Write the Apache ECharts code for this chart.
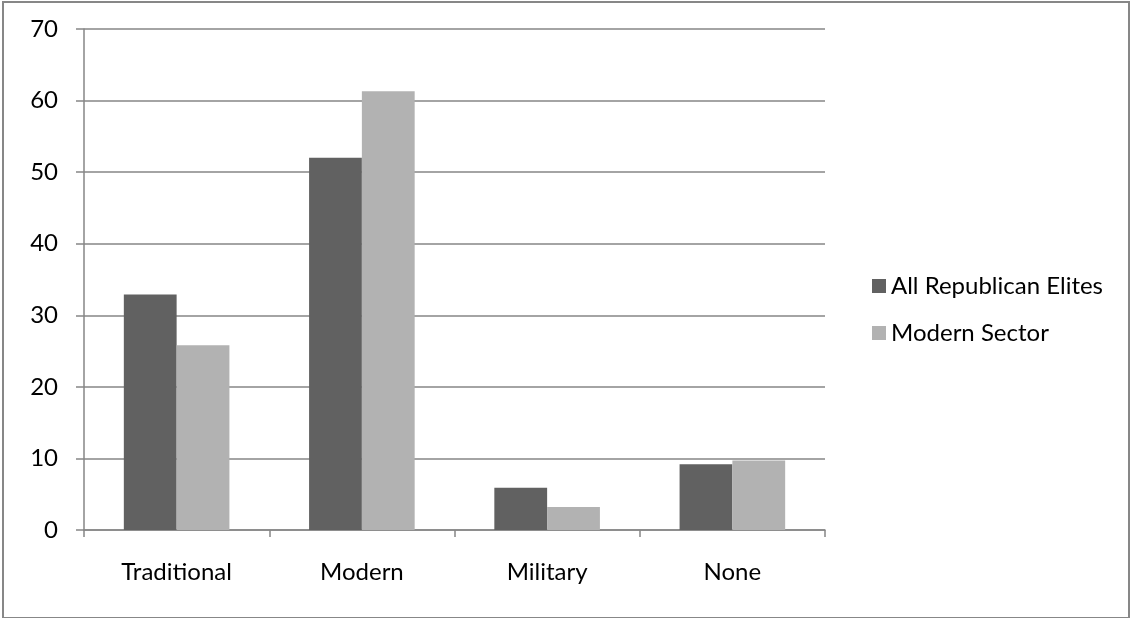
<!DOCTYPE html>
<html><head><meta charset="utf-8">
<script src="https://cdn.jsdelivr.net/npm/echarts@6/dist/echarts.min.js"></script>
<style>html,body{margin:0;padding:0;background:#fff}#c{width:1134px;height:618px}
#frame{position:absolute;left:2px;top:1px;width:1124px;height:614px;border:2px solid #878787;box-sizing:content-box;pointer-events:none}</style>
</head><body><div id="c"></div><div id="frame"></div>
<script>
const categories = ['Traditional', 'Modern', 'Military', 'None'];
const allRepublicanElites = [32.9, 52.0, 5.9, 9.2];
const modernSector = [25.8, 61.3, 3.2, 9.7];
const seriesNames = ['All Republican Elites', 'Modern Sector'];
const yTicks = { min: 0, max: 70, interval: 10 };

const chart = echarts.init(document.getElementById('c'));
const font = 'Lato, "Open Sans", sans-serif';
chart.setOption({
  animation: false,
  textStyle: { fontFamily: font },
  grid: { left: 84, right: 309, top: 29, bottom: 88, containLabel: false },
  legend: {
    orient: 'vertical', left: 867, top: 269,
    itemWidth: 14, itemHeight: 14, itemGap: 23,
    icon: 'rect',
    textStyle: { fontSize: 24, lineHeight: 24, color: '#000', fontFamily: font },
    data: seriesNames
  },
  xAxis: {
    type: 'category', data: categories,
    axisLine: { lineStyle: { color: '#868686', width: 1.5 } },
    axisTick: { show: true, length: 7, lineStyle: { color: '#868686', width: 1.5 } },
    axisLabel: { fontSize: 24, color: '#000', margin: 30, fontFamily: font }
  },
  yAxis: {
    type: 'value', min: yTicks.min, max: yTicks.max, interval: yTicks.interval,
    axisLine: { show: true, lineStyle: { color: '#868686', width: 1.5 } },
    axisTick: { show: true, length: 8, lineStyle: { color: '#868686', width: 1.5 } },
    splitLine: { lineStyle: { color: '#868686', width: 1.5 } },
    axisLabel: { fontSize: 24, color: '#000', margin: 26, fontFamily: font }
  },
  series: [
    { name: seriesNames[0], type: 'bar', data: allRepublicanElites, barGap: '0%', barCategoryGap: '43%',
      itemStyle: { color: '#616161' } },
    { name: seriesNames[1], type: 'bar', data: modernSector, barGap: '0%', barCategoryGap: '43%',
      itemStyle: { color: '#b2b2b2' } }
  ]
});
</script></body></html>
